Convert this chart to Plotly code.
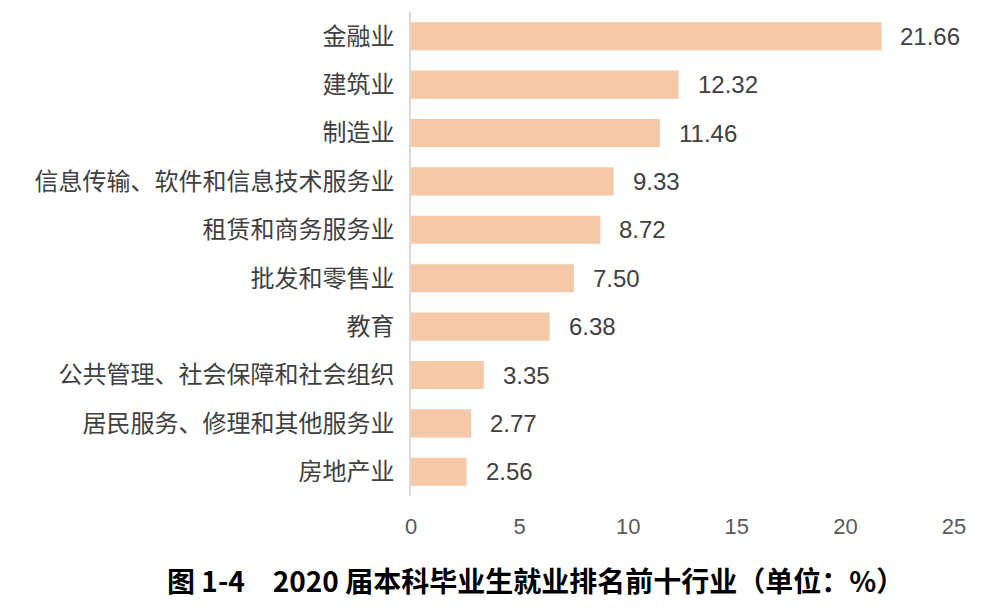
import plotly.graph_objects as go

categories = ["金融业", "建筑业", "制造业", "信息传输、软件和信息技术服务业", "租赁和商务服务业",
              "批发和零售业", "教育", "公共管理、社会保障和社会组织", "居民服务、修理和其他服务业", "房地产业"]
values = [21.66, 12.32, 11.46, 9.33, 8.72, 7.50, 6.38, 3.35, 2.77, 2.56]
value_labels = ["21.66", "12.32", "11.46", "9.33", "8.72", "7.50", "6.38", "3.35", "2.77", "2.56"]
x_ticks = [0, 5, 10, 15, 20, 25]
title_text = "图 1-4　2020 届本科毕业生就业排名前十行业（单位：%）"

FONT = "Liberation Sans, Arial, Noto Sans CJK SC, sans-serif"

fig = go.Figure(go.Bar(
    x=values, y=categories, orientation="h",
    marker=dict(color="#F5C8A8", line=dict(width=0)),
    width=0.58,
    hoverinfo="skip",
))

for c, v, lab in zip(categories, values, value_labels):
    fig.add_annotation(x=v, y=c, text=lab, showarrow=False, xanchor="left", xshift=17,
                       font=dict(family=FONT, size=24, color="#404040"))

fig.add_annotation(xref="paper", yref="paper", x=(526 - 402) / (945 - 402), y=-0.173,
                   xanchor="center", yanchor="middle", showarrow=False,
                   text="<b>" + title_text + "</b>",
                   font=dict(family="Noto Sans CJK SC, sans-serif", size=28, color="#000000"))

fig.update_layout(
    width=985, height=609,
    margin=dict(l=403, r=39, t=4, b=121),
    paper_bgcolor="white", plot_bgcolor="white",
    showlegend=False,
    bargap=0.42,
    font=dict(family=FONT),
    xaxis=dict(range=[0, 25], tickvals=x_ticks, showgrid=False, zeroline=False,
               showline=False, ticks="", ticklabelstandoff=15,
               tickfont=dict(family=FONT, size=22, color="#595959")),
    yaxis=dict(categoryorder="array", categoryarray=categories[::-1],
               showgrid=False, zeroline=False, showline=True, linecolor="#D9D9D9", linewidth=1.5,
               ticks="", ticklabelstandoff=10,
               tickfont=dict(family="Noto Sans CJK SC, sans-serif", size=24, color="#404040")),
)

fig.write_html("out.html")
